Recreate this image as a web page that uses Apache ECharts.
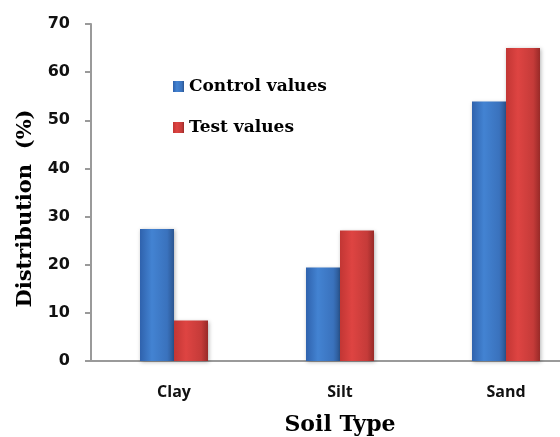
<!DOCTYPE html>
<html><head><meta charset="utf-8">
<script src="https://cdn.jsdelivr.net/npm/echarts@6/dist/echarts.min.js"></script>
<style>html,body{margin:0;padding:0;background:#fff}#c{width:560px;height:437px}</style>
</head><body><div id="c"></div>
<script>
const categories = ['Clay', 'Silt', 'Sand'];
const controlValues = [27.4, 19.4, 53.9];
const testValues = [8.4, 27.1, 65.0];
const yTicks = [0, 10, 20, 30, 40, 50, 60, 70];

const blue = new echarts.graphic.LinearGradient(0, 0, 1, 0, [
  {offset: 0, color: '#2f62ad'}, {offset: 0.35, color: '#4383d2'}, {offset: 0.8, color: '#3a72bd'}, {offset: 1, color: '#2b5590'}]);
const red = new echarts.graphic.LinearGradient(0, 0, 1, 0, [
  {offset: 0, color: '#c23634'}, {offset: 0.35, color: '#de4442'}, {offset: 0.8, color: '#c53b39'}, {offset: 1, color: '#982a28'}]);

const serif = 'DejaVu Serif';
const chart = echarts.init(document.getElementById('c'));
chart.setOption({
  animation: false,
  grid: {left: 91, width: 498, top: 24, bottom: 76, outerBoundsMode: 'none', containLabel: false},
  legend: {
    orient: 'vertical', left: 168, top: 73, itemGap: 24, itemWidth: 11, itemHeight: 11,
    icon: 'rect',
    textStyle: {fontFamily: serif, fontWeight: 'bold', fontSize: 17, color: '#000'},
    data: ['Control values', 'Test values']
  },
  xAxis: {
    type: 'category', data: categories,
    name: 'Soil Type', nameLocation: 'middle', nameGap: 53,
    nameTextStyle: {fontFamily: serif, fontWeight: 'bold', fontSize: 22, color: '#000'},
    axisLine: {lineStyle: {color: '#9a9a9a', width: 2}},
    axisTick: {show: false},
    axisLabel: {fontFamily: 'Open Sans', fontWeight: 'bold', fontSize: 16, color: '#111', margin: 23}
  },
  yAxis: {
    type: 'value', min: 0, max: 70, interval: 10,
    name: 'Distribution  (%)', nameLocation: 'middle', nameGap: 55, nameRotate: 90,
    nameTextStyle: {fontFamily: serif, fontWeight: 'bold', fontSize: 21, color: '#000', padding: [0, 32, 0, 0]},
    axisLine: {show: true, lineStyle: {color: '#9a9a9a', width: 2}},
    axisTick: {show: true, length: 6, lineStyle: {color: '#9a9a9a', width: 2}},
    splitLine: {show: false},
    axisLabel: {fontFamily: 'DejaVu Sans', fontWeight: 'bold', fontSize: 16, color: '#111', margin: 21,
      formatter: v => yTicks.includes(v) ? String(v) : ''}
  },
  series: [
    {name: 'Control values', type: 'bar', data: controlValues, barWidth: 34, barGap: '0%',
     itemStyle: {color: blue, shadowColor: 'rgba(0,0,0,0.3)', shadowBlur: 4, shadowOffsetX: 1, shadowOffsetY: 1}},
    {name: 'Test values', type: 'bar', data: testValues, barWidth: 34, barGap: '0%',
     itemStyle: {color: red, shadowColor: 'rgba(0,0,0,0.3)', shadowBlur: 4, shadowOffsetX: 1, shadowOffsetY: 1}}
  ]
});
</script></body></html>
